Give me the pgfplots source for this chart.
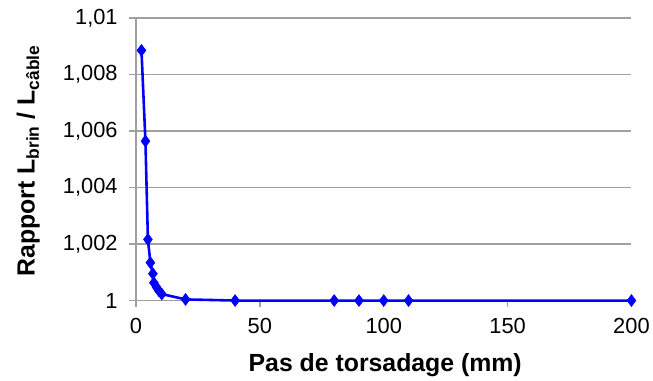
\documentclass[border=0pt]{standalone}
\usepackage{fontspec}
\setmainfont{Liberation Sans}
\usepackage{pgfplots}
\pgfplotsset{compat=1.18}
\definecolor{gridgray}{RGB}{160,160,160}
\definecolor{serieblue}{RGB}{0,0,255}
\begin{document}
\begin{tikzpicture}
\begin{axis}[
  at={(0pt,0pt)}, anchor=south west,
  scale only axis,
  width=499pt, height=284.7pt,
  xmin=0, xmax=200, ymin=1, ymax=1.01,
  xtick={0,50,100,150,200},
  ytick={1,1.002,1.004,1.006,1.008,1.01},
  scaled y ticks=false,
  axis x line*=bottom, axis y line*=left,
  axis line style={draw=gridgray, line width=1.3pt, -},
  ymajorgrids,
  grid style={draw=gridgray, line width=1.3pt},
  tick align=outside,
  major tick length=7pt,
  tick style={draw=gridgray, line width=1.3pt},
  /pgf/number format/assume math mode=true,
  tick label style={font=\fontsize{22}{26}\selectfont, text=black},
  yticklabel style={/pgf/number format/.cd, fixed, precision=3, use comma, /tikz/.cd, xshift=-8pt},
  xticklabel style={/pgf/number format/.cd, fixed, precision=0, /tikz/.cd, yshift=-7pt},
  xlabel={Pas de torsadage (mm)},
  ylabel={Rapport L\textsubscript{brin} / L\textsubscript{câble}},
  label style={font=\fontsize{25}{30}\selectfont\bfseries},
  xlabel style={at={(axis description cs:0.503,-0.2504)}, anchor=base},
  ylabel style={at={(axis description cs:-0.2044,0.494)}, anchor=base, rotate=0},
  clip=false,
]
\addplot[color=serieblue, line width=2.6pt, mark=diamond*, mark size=6pt,
  mark options={fill=serieblue, draw=serieblue, line width=0.5pt}]
  coordinates {
  (2.2,1.00885)
  (3.8,1.00564)
  (4.8,1.00216)
  (5.8,1.00134)
  (6.8,1.00095)
  (7.2,1.00063)
  (8.2,1.00048)
  (9.2,1.00035)
  (10.4,1.00023)
  (20,1.00004)
  (40,1.00000)
  (80,1.0)
  (90,1.0)
  (100,1.0)
  (110,1.0)
  (200,1.0)
  };
\end{axis}
\path[use as bounding box] (-137pt,-80.3pt) rectangle (516pt,302.7pt);
\end{tikzpicture}
\end{document}
